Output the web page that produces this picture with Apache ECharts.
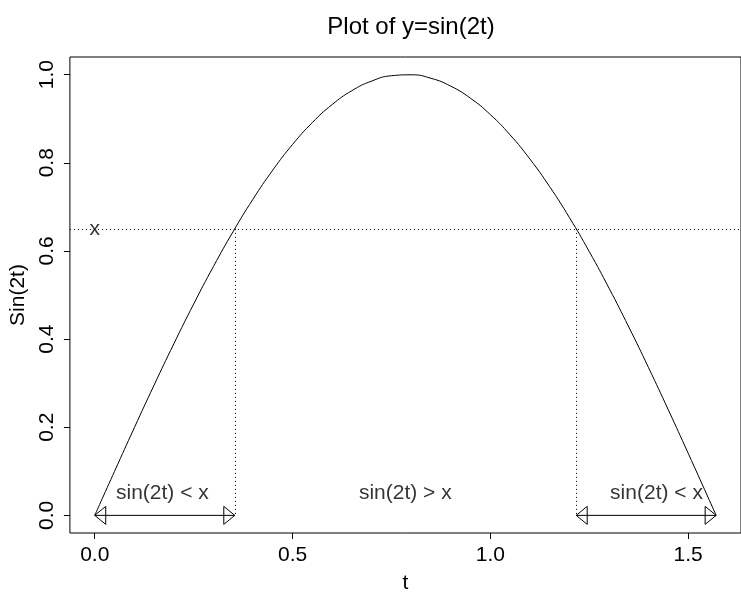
<!DOCTYPE html>
<html>
<head>
<meta charset="utf-8">
<script src="https://cdn.jsdelivr.net/npm/echarts@6/dist/echarts.min.js"></script>
<style>html,body{margin:0;padding:0;background:#fff}#c{width:741px;height:599px}</style>
</head>
<body>
<div id="c"></div>
<script>
// curve samples: t and sin(2t)
const tValues = [0, 0.05, 0.1, 0.15, 0.2, 0.25, 0.3, 0.35, 0.4, 0.45, 0.5, 0.55, 0.6, 0.65, 0.7, 0.75, 0.8, 0.85, 0.9, 0.95, 1.0, 1.05, 1.1, 1.15, 1.2, 1.25, 1.3, 1.35, 1.4, 1.45, 1.5, 1.55, 1.5708];
const yValues = [0, 0.0998, 0.1987, 0.2955, 0.3894, 0.4794, 0.5646, 0.6442, 0.7174, 0.7833, 0.8415, 0.8912, 0.9320, 0.9636, 0.9854, 0.9975, 0.9996, 0.9917, 0.9738, 0.9463, 0.9093, 0.8632, 0.8085, 0.7457, 0.6755, 0.5985, 0.5155, 0.4274, 0.3350, 0.2392, 0.1411, 0.0416, 0];
const xTicks = [0, 0.5, 1.0, 1.5];
const yTicks = [0, 0.2, 0.4, 0.6, 0.8, 1.0];
const level = 0.65;
const crossT = [0.354, 1.217];
const arrowSegments = [[0, 0.354, 0], [1.217, 1.5708, 0]];
const noteTexts = ['sin(2t) < x', 'sin(2t) > x', 'sin(2t) < x', 'x'];
const noteT = [0.171, 0.785, 1.42, 0];
const noteY = [0.05, 0.05, 0.05, 0.65];

const FONT = '"Liberation Sans", Arial, Helvetica, sans-serif';
const curve = tValues.map((t, i) => [t, yValues[i]]);
const notes = noteTexts.map((s, i) => ({ value: [noteT[i], noteY[i]], name: s }));

const chart = echarts.init(document.getElementById('c'), null, { renderer: 'canvas' });
chart.setOption({
  animation: false,
  backgroundColor: '#fff',
  title: {
    text: 'Plot of y=sin(2t)',
    left: 406, top: 10, textAlign: 'center',
    textStyle: { fontFamily: FONT, fontSize: 24, fontWeight: 'normal', color: '#000' }
  },
  grid: { left: 65, top: 57, width: 683, height: 483, show: true, borderColor: '#000', borderWidth: 1, backgroundColor: 'transparent' },
  xAxis: {
    type: 'value', min: -0.0628, max: 1.6336,
    name: 't', nameLocation: 'middle', nameGap: 40,
    nameTextStyle: { fontFamily: FONT, fontSize: 21, color: '#000' },
    axisLine: { show: false, onZero: false },
    splitLine: { show: false },
    axisTick: { show: true, customValues: xTicks, length: 6, inside: false, lineStyle: { color: '#000' } },
    axisLabel: { customValues: xTicks, margin: 12, fontFamily: FONT, fontSize: 21, color: '#000', formatter: v => v.toFixed(1) }
  },
  yAxis: {
    type: 'value', min: -0.04, max: 1.04,
    name: 'Sin(2t)', nameLocation: 'middle', nameGap: 40, nameRotate: 90,
    nameTextStyle: { fontFamily: FONT, fontSize: 21, color: '#000' },
    axisLine: { show: false, onZero: false },
    splitLine: { show: false },
    axisTick: { show: true, customValues: yTicks, length: 6, lineStyle: { color: '#000' } },
    axisLabel: { customValues: yTicks, rotate: 90, margin: 12, fontFamily: FONT, fontSize: 21, color: '#000', formatter: v => v.toFixed(1) }
  },
  series: [
    {
      type: 'line', data: curve, smooth: true, showSymbol: false, symbol: 'none',
      lineStyle: { color: '#000', width: 1 }, z: 3,
      markLine: {
        silent: true, symbol: 'none', label: { show: false },
        lineStyle: { color: '#000', width: 1, type: [1, 3] },
        data: [
          { yAxis: level },
          [{ coord: [crossT[0], level] }, { coord: [crossT[0], 0] }],
          [{ coord: [crossT[1], level] }, { coord: [crossT[1], 0] }]
        ]
      }
    },
    {
      type: 'custom', data: arrowSegments, encode: { x: [0, 1], y: 2 }, z: 4,
      renderItem: function (params, api) {
        const a = api.coord([api.value(0), api.value(2)]);
        const b = api.coord([api.value(1), api.value(2)]);
        const L = 11, H = 9;
        const st = { fill: 'none', stroke: '#000', lineWidth: 1 };
        return {
          type: 'group', children: [
            { type: 'line', shape: { x1: a[0], y1: a[1], x2: b[0], y2: b[1] }, style: st },
            { type: 'polygon', shape: { points: [[a[0], a[1]], [a[0] + L, a[1] - H], [a[0] + L, a[1] + H]] }, style: st },
            { type: 'polygon', shape: { points: [[b[0], b[1]], [b[0] - L, b[1] - H], [b[0] - L, b[1] + H]] }, style: st }
          ]
        };
      }
    },
    {
      type: 'scatter', data: notes, symbolSize: 0, z: 5,
      label: { show: true, position: 'inside', formatter: p => p.name, fontFamily: FONT, fontSize: 21, color: '#000' }
    }
  ]
});
</script>
</body>
</html>
